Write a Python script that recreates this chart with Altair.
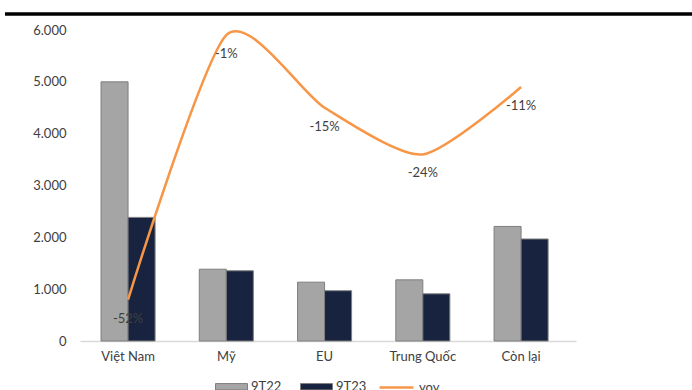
import altair as alt
import pandas as pd

regions = ["Việt Nam", "Mỹ", "EU", "Trung Quốc", "Còn lại"]
v9t22 = [5000, 1385, 1135, 1180, 2210]
v9t23 = [2385, 1355, 970, 910, 1968]
yoy = [-52, -1, -15, -24, -11]
series = ["9T22", "9T23"]
left_ticks = [0, 1000, 2000, 3000, 4000, 5000, 6000]
right_ticks = [0, -10, -20, -30, -40, -50, -60]

bars_df = pd.DataFrame({
    "region": regions * 2,
    "series": [series[0]] * 5 + [series[1]] * 5,
    "value": v9t22 + v9t23,
})
line_df = pd.DataFrame({"region": regions, "yoy": yoy, "label": [f"{v}%" for v in yoy], "s": ["yoy"] * 5})

FONT = "Lato"
TXT = "#404040"

xscale = alt.Scale(domain=regions, paddingInner=0.45, paddingOuter=0.249, align=0.43)
xenc = alt.X("region:N", sort=regions, scale=xscale,
             axis=alt.Axis(title=None, ticks=False, domainColor="#D9D9D9", domainWidth=1.5,
                           labelPadding=9, labelFontSize=13, labelColor=TXT, labelFont=FONT, labelAngle=0))

bars = alt.Chart(bars_df).mark_bar(stroke="#7F7F7F", strokeWidth=1).encode(
    x=xenc,
    xOffset=alt.XOffset("series:N", sort=series),
    y=alt.Y("value:Q", scale=alt.Scale(domain=[0, 6000], nice=False),
            axis=alt.Axis(title=None, values=left_ticks, grid=False, ticks=False, domain=False,
                          labelPadding=14, labelFontSize=13, labelColor=TXT, labelFont=FONT,
                          labelExpr="replace(format(datum.value, ',.0f'), ',', '.')")),
    color=alt.Color("series:N", sort=series,
                    scale=alt.Scale(domain=series, range=["#A5A5A5", "#17233F"]),
                    legend=alt.Legend(title=None, orient="none", direction="horizontal",
                                      legendX=135, legendY=340,
                                      symbolType="M-1,-0.2H1V0.2H-1Z", symbolSize=1024,
                                      symbolStrokeColor="#7F7F7F", symbolStrokeWidth=1,
                                      labelFontSize=13, labelColor=TXT, labelFont=FONT,
                                      labelOffset=3, columnPadding=16, padding=0)),
)

yright = alt.Y("yoy:Q", scale=alt.Scale(domain=[-60, 0], nice=False),
               axis=alt.Axis(title=None, orient="right", values=right_ticks, grid=False, ticks=False,
                             domain=False, labelPadding=8, labelFontSize=13, labelColor=TXT,
                             labelFont=FONT, labelExpr="datum.value + '%'"))

line = alt.Chart(line_df).mark_line(interpolate="cardinal", tension=0.3, strokeWidth=2.5).encode(
    x=alt.X("region:N", sort=regions),
    y=yright,
    stroke=alt.Stroke("s:N", scale=alt.Scale(domain=["yoy"], range=["#F79646"]),
                      legend=alt.Legend(title=None, orient="none", legendX=298, legendY=339,
                                        symbolType="stroke", symbolSize=1150, symbolStrokeWidth=2.5,
                                        labelFontSize=13, labelColor=TXT, labelFont=FONT,
                                        labelOffset=4, padding=0)),
)

labels = alt.Chart(line_df).mark_text(dy=19, fontSize=13, color=TXT, font=FONT).encode(
    x=alt.X("region:N", sort=regions),
    y=alt.Y("yoy:Q", scale=alt.Scale(domain=[-60, 0], nice=False), axis=None),
    text="label:N",
)

topline = alt.Chart(alt.Data(values=[{}])).mark_rule(color="black", strokeWidth=3.5).encode(
    x=alt.value(-75), x2=alt.value(612), y=alt.value(-16)
)

chart = alt.layer(bars, alt.layer(line, labels), topline).resolve_scale(
    y="independent", color="independent"
).properties(
    width=496, height=311,
    padding={"left": 80, "top": 30, "right": 116, "bottom": 49},
    autosize=alt.AutoSizeParams(type="none"),
).configure(font=FONT).configure_view(strokeWidth=0, stroke="transparent")

chart.save("out.html", embed_options={"renderer": "svg", "actions": False})
